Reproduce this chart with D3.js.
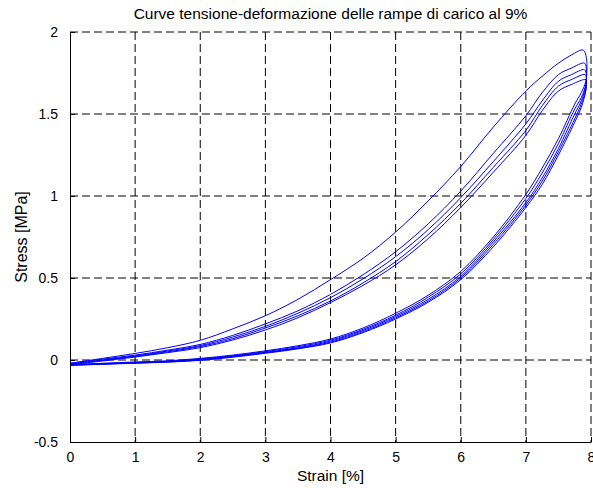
<!DOCTYPE html>
<html>
<head>
<meta charset="utf-8">
<script src="https://cdn.jsdelivr.net/npm/d3@7"></script>
<style>
  body { margin: 0; background: #fff; }
  text { font-family: "Liberation Sans", Arial, Helvetica, sans-serif; fill: #000; }
</style>
</head>
<body>
<div id="chart"></div>
<script>
var loadStrain = [0, 0.5, 1, 1.5, 2, 2.5, 3, 3.5, 4, 4.5, 5, 5.5, 6, 6.5, 7, 7.25, 7.5, 7.7];
// strain values for the unloading branches
var unloadStrain = [7.93, 7.92, 7.85, 7.75, 7.5, 7.25, 7, 6.5, 6, 5.5, 5, 4.5, 4, 3.5, 3, 2.5, 2, 1.5, 1, 0.5, 0];

// loading stress, one array per cycle (MPa)
var load1 = [-0.02, 0.01, 0.04, 0.075, 0.12, 0.19, 0.27, 0.37, 0.49, 0.62, 0.78, 0.97, 1.18, 1.42, 1.64, 1.73, 1.81, 1.86];
var load2 = [-0.02, 0.005, 0.03, 0.06, 0.095, 0.15, 0.22, 0.30, 0.40, 0.52, 0.66, 0.83, 1.03, 1.26, 1.49, 1.63, 1.74, 1.78];
var load3 = [-0.025, 0.0, 0.025, 0.055, 0.088, 0.14, 0.205, 0.285, 0.38, 0.495, 0.63, 0.795, 0.99, 1.21, 1.44, 1.58, 1.70, 1.74];
var load4 = [-0.025, -0.002, 0.022, 0.05, 0.082, 0.13, 0.195, 0.27, 0.36, 0.47, 0.60, 0.765, 0.955, 1.175, 1.40, 1.55, 1.67, 1.71];
var load5 = [-0.03, -0.006, 0.018, 0.045, 0.075, 0.122, 0.183, 0.258, 0.35, 0.455, 0.58, 0.74, 0.93, 1.145, 1.37, 1.52, 1.64, 1.68];

// peak of each cycle
var peakStrain = [7.88, 7.90, 7.90, 7.91, 7.92];
var peakStress = [1.89, 1.81, 1.77, 1.74, 1.71];

// unloading stress, one array per cycle (MPa)
var unload1 = [1.84, 1.70, 1.63, 1.56, 1.35, 1.17, 1.01, 0.75, 0.54, 0.395, 0.285, 0.195, 0.128, 0.087, 0.056, 0.03, 0.01, -0.005, -0.012, -0.02, -0.028];
var unload2 = [1.76, 1.68, 1.60, 1.53, 1.32, 1.14, 0.985, 0.735, 0.525, 0.383, 0.273, 0.187, 0.121, 0.081, 0.051, 0.026, 0.006, -0.008, -0.015, -0.022, -0.03];
var unload3 = [1.73, 1.67, 1.58, 1.50, 1.29, 1.11, 0.96, 0.72, 0.51, 0.37, 0.265, 0.18, 0.115, 0.075, 0.047, 0.022, 0.003, -0.01, -0.017, -0.024, -0.03];
var unload4 = [1.71, 1.65, 1.56, 1.47, 1.27, 1.09, 0.945, 0.705, 0.50, 0.36, 0.257, 0.173, 0.109, 0.071, 0.044, 0.02, 0.0, -0.012, -0.018, -0.025, -0.032];
var unload5 = [1.69, 1.64, 1.54, 1.45, 1.25, 1.07, 0.93, 0.69, 0.49, 0.352, 0.25, 0.167, 0.104, 0.068, 0.041, 0.017, -0.002, -0.013, -0.02, -0.026, -0.033];

var xTicks = [0, 1, 2, 3, 4, 5, 6, 7, 8];
var yTicks = [-0.5, 0, 0.5, 1, 1.5, 2];

var loads = [load1, load2, load3, load4, load5];
var unloads = [unload1, unload2, unload3, unload4, unload5];

var svgWidth = 593;
var svgHeight = 488;
var margin = { top: 32, right: 2, bottom: 46, left: 70 };
var chartWidth = svgWidth - margin.left - margin.right;
var chartHeight = svgHeight - margin.top - margin.bottom;

var svg = d3.select("#chart")
  .append("svg")
  .attr("width", svgWidth)
  .attr("height", svgHeight)
  .style("display", "block");

svg.append("rect").attr("width", svgWidth).attr("height", svgHeight).attr("fill", "#fff");

var g = svg.append("g")
  .attr("transform", `translate(${margin.left}, ${margin.top})`);

var x = d3.scaleLinear().domain([0, 8]).range([0, chartWidth]);
var y = d3.scaleLinear().domain([-0.5, 2]).range([chartHeight, 0]);

// dashed grid
g.selectAll(".vgrid")
  .data(xTicks.slice(1))
  .enter()
  .append("line")
  .attr("x1", d => x(d)).attr("x2", d => x(d))
  .attr("y1", 0).attr("y2", chartHeight)
  .attr("stroke", "#000")
  .attr("stroke-dasharray", "8,4");

g.selectAll(".hgrid")
  .data(yTicks.slice(1))
  .enter()
  .append("line")
  .attr("x1", 0).attr("x2", chartWidth)
  .attr("y1", d => y(d)).attr("y2", d => y(d))
  .attr("stroke", "#000")
  .attr("stroke-dasharray", "8,4");

// loops
var line = d3.line()
  .x(d => x(d[0]))
  .y(d => y(d[1]))
  .curve(d3.curveCatmullRom.alpha(0.5));

loads.forEach(function(ld, i) {
  var pts = loadStrain.map((s, j) => [s, ld[j]]);
  pts.push([peakStrain[i], peakStress[i]]);
  unloadStrain.forEach((s, j) => pts.push([s, unloads[i][j]]));
  g.append("path")
    .attr("d", line(pts))
    .attr("fill", "none")
    .attr("stroke", "#0000ff")
    .attr("stroke-width", 1);
});

// axes
var bottomAxis = d3.axisBottom(x).tickValues(xTicks).tickSizeInner(-5).tickSizeOuter(0).tickPadding(10).tickFormat(d3.format("d"));
var leftAxis = d3.axisLeft(y).tickValues(yTicks).tickSizeInner(-5).tickSizeOuter(0).tickPadding(12).tickFormat(d => d);

var xa = g.append("g")
  .attr("transform", `translate(0, ${chartHeight})`)
  .call(bottomAxis);
var ya = g.append("g").call(leftAxis);

[xa, ya].forEach(function(a) {
  a.selectAll("path, line").attr("stroke", "#000");
  a.selectAll("text").attr("font-size", "14px").attr("fill", "#000")
    .style("font-family", '"Liberation Sans", Arial, sans-serif');
});

// title and labels
svg.append("text")
  .attr("x", margin.left + chartWidth / 2)
  .attr("y", 19)
  .attr("text-anchor", "middle")
  .attr("font-size", "15.5px")
  .text("Curve tensione-deformazione delle rampe di carico al 9%");

svg.append("text")
  .attr("x", margin.left + chartWidth / 2)
  .attr("y", 481)
  .attr("text-anchor", "middle")
  .attr("font-size", "15.5px")
  .text("Strain [%]");

svg.append("text")
  .attr("transform", `translate(27, ${margin.top + chartHeight / 2}) rotate(-90)`)
  .attr("text-anchor", "middle")
  .attr("font-size", "16px")
  .text("Stress [MPa]");
</script>
</body>
</html>
